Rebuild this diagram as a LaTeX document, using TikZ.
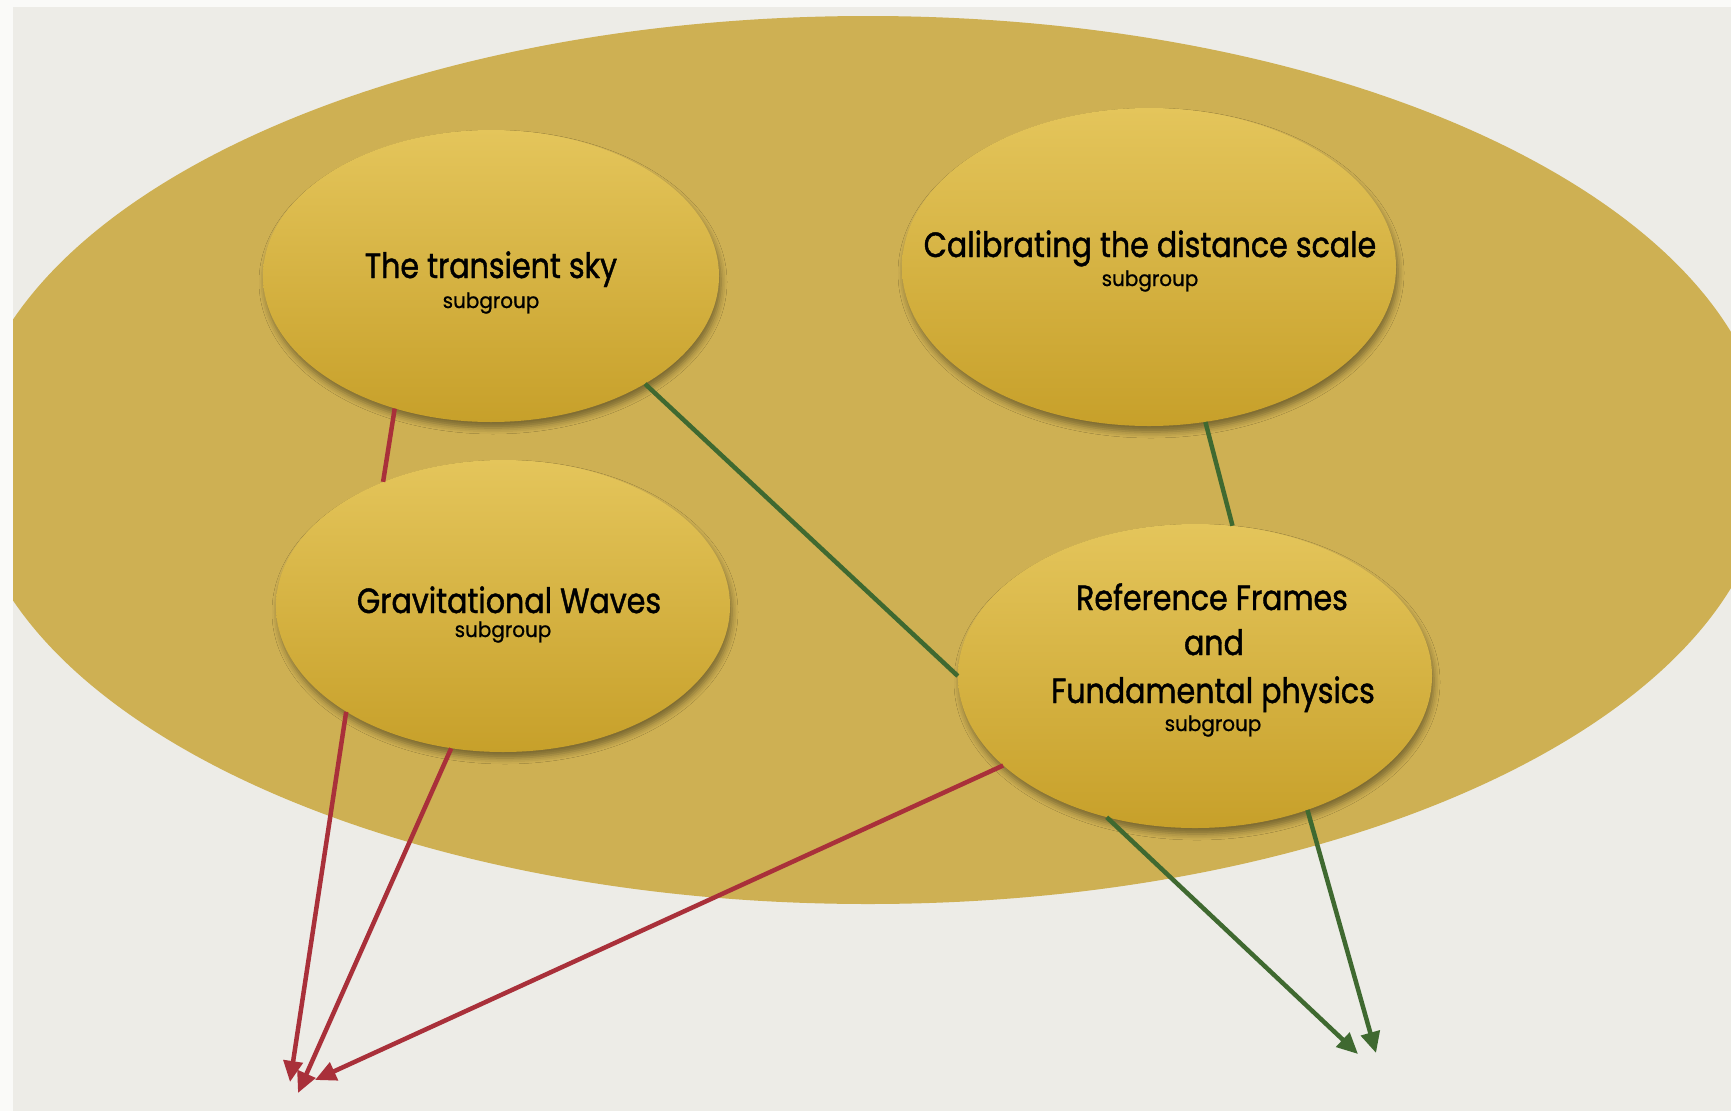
\documentclass[tikz,border=0pt]{standalone}
\usepackage{fontspec}
\setmainfont{Poppins}
\newfontfamily\titlefont{Poppins}[FakeStretch=0.86, FakeBold=1.2]
\newfontfamily\subfont{Poppins}[FakeStretch=0.95, FakeBold=0.8]
\usetikzlibrary{shapes.geometric,arrows.meta,shadows.blur}

\definecolor{paper}{HTML}{EDECE7}
\definecolor{strip}{HTML}{FAFAF8}
\definecolor{gold}{HTML}{CEB053}
\definecolor{bubtop}{HTML}{E4C55B}
\definecolor{bubbot}{HTML}{C7A02A}
\definecolor{linkred}{HTML}{A9303A}
\definecolor{linkgreen}{HTML}{3F6930}

\begin{document}
\begin{tikzpicture}[x=1pt,y=-1pt,
  bubble/.style={ellipse, inner sep=0pt, top color=bubtop, bottom color=bubbot,
    blur shadow={shadow xshift=2pt, shadow yshift=-6pt, shadow blur radius=6pt, shadow opacity=40}},
  title/.style={font=\titlefont\fontsize{35}{46}\selectfont, inner sep=0pt, anchor=base, text=black},
  sub/.style={font=\subfont\fontsize{21}{24}\selectfont, inner sep=0pt, anchor=base, text=black},
  redlink/.style={draw=linkred, line width=4.5pt},
  greenlink/.style={draw=linkgreen, line width=4.5pt},
  tip/.style={-{Triangle[length=21pt,width=19pt]}}
]
\useasboundingbox (0,0) rectangle (1731,1111);
\fill[strip] (0,0) rectangle (1731,1111);
\fill[paper] (13,7) rectangle (1731,1111);
\begin{scope}
\clip (13,7) rectangle (1731,1111);
\fill[gold] (868,460) ellipse [x radius=901pt, y radius=444pt];
\end{scope}

\node[bubble, minimum width=456pt, minimum height=292pt] (ts) at (491,276) {};
\node[bubble, minimum width=494pt, minimum height=318pt] (cal) at (1149,267) {};
\node[bubble, minimum width=454pt, minimum height=292pt] (gw) at (503,606) {};
\node[bubble, minimum width=474pt, minimum height=304pt] (rf) at (1195,676) {};

\node[title] (tst) at (491,278) {The transient sky};
\node[sub] (tss) at (491,308) {subgroup};
\node[title] (calt) at (1150,257) {Calibrating the distance scale};
\node[sub] (cals) at (1150,286) {subgroup};
\node[title] (gwt) at (509,613) {Gravitational Waves};
\node[sub] (gws) at (503,637) {subgroup};
\node[title] (rft1) at (1212,610) {Reference Frames};
\node[title] (rft2) at (1214,655) {and};
\node[title] (rft3) at (1213,703) {Fundamental physics};
\node[sub] (rfs) at (1213,731) {subgroup};

\coordinate (r1) at (290,1082);
\coordinate (r2) at (298,1093);
\coordinate (r3) at (315,1080);
\coordinate (g1) at (1358,1054);
\coordinate (g2) at (1376,1053);

\draw[redlink] (ts.234) -- (gw.134);
\draw[greenlink] (ts.-35) -- (rf.180);
\draw[greenlink] (cal.-70) -- (rf.76);
\draw[redlink,tip] (gw.214) -- (r1);
\draw[redlink,tip] (gw.250) -- (r2);
\draw[redlink,tip] (rf.205) -- (r3);
\draw[greenlink,tip] (rf.238) -- (g1);
\draw[greenlink,tip] (rf.-50) -- (g2);
\end{tikzpicture}
\end{document}
